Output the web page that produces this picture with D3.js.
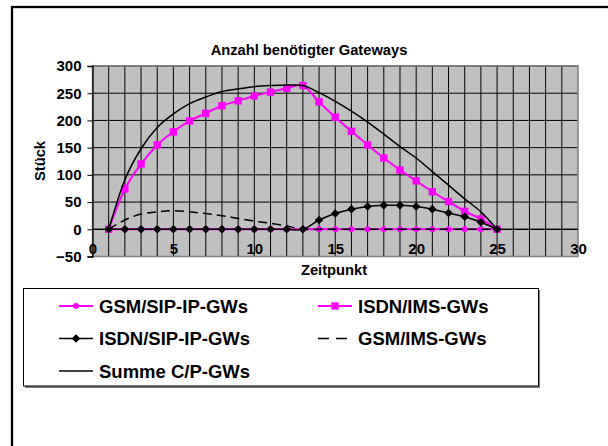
<!DOCTYPE html>
<html><head><meta charset="utf-8">
<script src="https://cdn.jsdelivr.net/npm/d3@7"></script>
<style>body{margin:0;background:#fff}svg{display:block}text{font-family:"Liberation Sans",Arial,sans-serif;font-weight:bold;fill:#000}</style>
</head><body>
<script>
const zeitpunkt = d3.range(1, 26);
const gsmSip   = [0,0,0,0,0,0,0,0,0,0,0,0,0,0,0,0,0,0,0,0,0,0,0,0,0];
const isdnIms  = [0,74,120,155,179,199,213,227,236,245,252,259,264,234,206,180,155,131,109,89,69,51,33,19,0];
const isdnSip  = [0,0,0,0,0,0,0,0,0,0,0,0,0,17,29,37,42,44,44,42,37,30,23,13,0];
const gsmIms   = [0,17,28,32,34,32,29,25,20,15,11,6,0,0,0,0,0,0,0,0,0,0,0,0,0];
const summe    = [0,91,148,187,212,231,243,253,258,262,264,265,264,251,235,217,197,175,152,131,106,81,56,32,0];
const xTicks = [0,5,10,15,20,25,30];
const yTicks = [-50,0,50,100,150,200,250,300];
const title = "Anzahl benötigter Gateways";
const xTitle = "Zeitpunkt", yTitle = "Stück";
const legendNames = ["GSM/SIP-IP-GWs","ISDN/IMS-GWs","ISDN/SIP-IP-GWs","GSM/IMS-GWs","Summe C/P-GWs"];

const W = 608, H = 446;
const svg = d3.select("body").append("svg").attr("width", W).attr("height", H);
svg.append("rect").attr("x", 12).attr("y", 7).attr("width", 640).attr("height", 480)
  .attr("fill", "#fff").attr("stroke", "#000").attr("stroke-width", 2.3);

const x = d3.scaleLinear().domain([0, 30]).range([92.5, 578]);
const y = d3.scaleLinear().domain([-50, 300]).range([256.5, 66]);

svg.append("rect").attr("x", x(0)).attr("y", y(300)).attr("width", x(30) - x(0)).attr("height", y(-50) - y(300))
  .attr("fill", "#C0C0C0");
// grid
const g = svg.append("g");
g.selectAll(".vg").data(d3.range(1, 30)).join("line")
  .attr("x1", d => x(d)).attr("x2", d => x(d)).attr("y1", y(300)).attr("y2", y(-50))
  .attr("stroke", "#000").attr("stroke-width", 1);
g.selectAll(".hg").data(yTicks.filter(v => v > -50)).join("line")
  .attr("x1", x(0)).attr("x2", x(30)).attr("y1", d => y(d)).attr("y2", d => y(d))
  .attr("stroke", "#000").attr("stroke-width", 1);
svg.append("rect").attr("x", x(0)).attr("y", y(300)).attr("width", x(30) - x(0)).attr("height", y(-50) - y(300))
  .attr("fill", "none").attr("stroke", "#808080").attr("stroke-width", 1.5);

// y axis
const ya = svg.append("g").attr("transform", `translate(${x(0)},0)`)
  .call(d3.axisLeft(y).tickValues(yTicks).tickSize(5).tickPadding(6));
ya.select(".domain").attr("stroke", "#000").attr("stroke-width", 1.3);
ya.selectAll(".tick line").attr("stroke", "#000");
ya.selectAll("text").style("font-size", "15px").attr("fill", "#000");
// x axis line at 0
svg.append("line").attr("x1", x(0)).attr("x2", x(30)).attr("y1", y(0)).attr("y2", y(0))
  .attr("stroke", "#000").attr("stroke-width", 1.3);
// x tick labels
const xa = svg.append("g").attr("transform", `translate(0,${y(-50) - 13})`)
  .call(d3.axisBottom(x).tickValues(xTicks).tickSize(0).tickPadding(0));
xa.select(".domain").remove();
xa.selectAll("text").style("font-size", "15px").attr("dy", "0.71em").attr("fill", "#000");

svg.append("text").attr("x", 309).attr("y", 55).attr("text-anchor", "middle").style("font-size", "14.7px").text(title);
svg.append("text").attr("x", 334).attr("y", 275).attr("text-anchor", "middle").style("font-size", "14.7px").text(xTitle);
svg.append("text").attr("transform", `translate(45,161) rotate(-90)`).attr("text-anchor", "middle").style("font-size", "14.7px").text(yTitle);

const smooth = d3.line().x((d, i) => x(zeitpunkt[i])).y(d => y(d)).curve(d3.curveCatmullRom.alpha(0));
const series = [
  {v: gsmSip, color: "#FF00FF", w: 2, dash: null, marker: "circle"},
  {v: isdnIms, color: "#FF00FF", w: 2, dash: null, marker: "square"},
  {v: isdnSip, color: "#000", w: 1.5, dash: null, marker: "diamond"},
  {v: gsmIms, color: "#000", w: 1.5, dash: "9,5", marker: null},
  {v: summe, color: "#000", w: 1.5, dash: null, marker: null}
];
function marker(sel, type, color) {
  if (type === "circle") sel.append("circle").attr("r", 3).attr("fill", color);
  else if (type === "square") sel.append("rect").attr("x", -3.7).attr("y", -3.7).attr("width", 7.4).attr("height", 7.4).attr("fill", color);
  else if (type === "diamond") sel.append("path").attr("d", "M0,-4.3L4.3,0L0,4.3L-4.3,0Z").attr("fill", color);
}
series.forEach(s => {
  svg.append("path").attr("d", smooth(s.v)).attr("fill", "none").attr("stroke", s.color)
    .attr("stroke-width", s.w).attr("stroke-dasharray", s.dash);
  if (s.marker) {
    s.v.forEach((d, i) => {
      const m = svg.append("g").attr("transform", `translate(${x(zeitpunkt[i])},${y(d)})`);
      marker(m, s.marker, s.color);
    });
  }
});

// legend
const lg = svg.append("g");
lg.append("rect").attr("x", 25).attr("y", 290).attr("width", 515).attr("height", 98)
  .attr("fill", "#808080");
lg.append("rect").attr("x", 23.5).attr("y", 288.5).attr("width", 515).attr("height", 97.5)
  .attr("fill", "#fff").attr("stroke", "#000").attr("stroke-width", 1);
const pos = [[59, 306], [318, 306], [59, 338.5], [318, 338.5], [59, 371]];
series.forEach((s, i) => {
  const [lx, ly] = pos[i];
  lg.append("line").attr("x1", lx).attr("x2", lx + 34).attr("y1", ly).attr("y2", ly)
    .attr("stroke", s.color).attr("stroke-width", s.w).attr("stroke-dasharray", s.dash ? "11,7" : null);
  if (s.marker) marker(lg.append("g").attr("transform", `translate(${lx + 17},${ly})`), s.marker, s.color);
  lg.append("text").attr("x", lx + 40).attr("y", ly).attr("dy", "0.36em").style("font-size", "18.5px").text(legendNames[i]);
});
</script>
</body></html>
